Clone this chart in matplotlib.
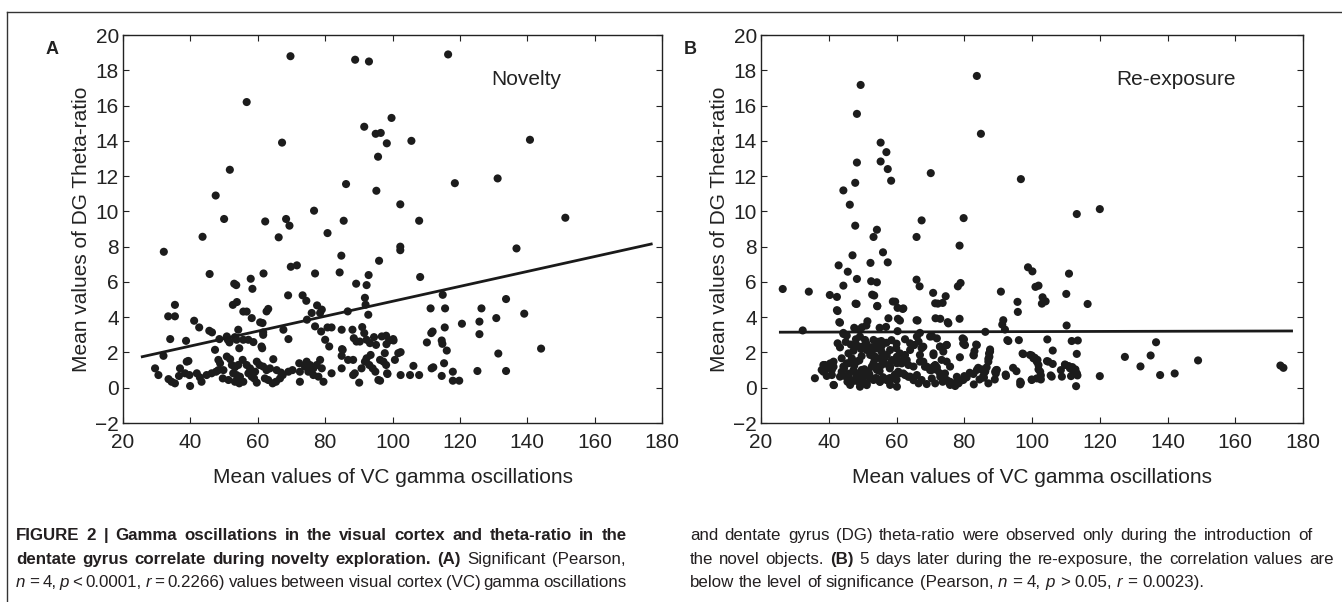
import matplotlib
matplotlib.use("Agg")
import matplotlib.pyplot as plt
from matplotlib.lines import Line2D
from matplotlib.font_manager import FontProperties

plt.rcParams['font.family'] = ['Liberation Sans', 'DejaVu Sans']

# panel A - novelty (x: VC gamma, y: DG theta-ratio)
nov_x = [69.7, 88.9, 93, 116.5, 56.7, 67.2, 99.7, 91.6, 95, 96.5, 98.3, 105.6, 140.8, 95.7,
         51.7, 86.2, 95.2, 118.5, 131.2, 47.5, 102.3, 76.7, 50, 62.2, 68.4, 69.4, 85.5, 107.9,
         151.3, 80.7, 43.6, 66.2, 32.1, 84.8, 102.3, 102.3, 136.8, 69.8, 71.6, 96, 45.7, 57.9,
         61.7, 77, 84.3, 92.9, 108.2, 53, 53.6, 58.4, 89.2, 92.3, 69, 73.3, 74.4, 91.8, 114.9,
         133.7, 52.6, 53.8, 35.4, 77.6, 92,
         33.4, 35.4, 63.1, 62.6, 34, 38.7, 41.1, 42.6, 45.6, 46.4, 48.6, 50.8, 51.1, 51.6, 53.2,
         53.7, 54.2, 55.7, 56.7, 54.5, 55.7, 58.2, 57.2, 58.7, 61.6, 61.6, 61.3, 61.1, 60.7, 61.4,
         67.6, 69.1, 74.6, 76, 77, 78.5, 79, 78.8, 80, 81.2, 80.7, 81.9, 84.9, 86.7, 85, 88.1,
         88.5, 89.3, 90.3, 91, 91.6, 92.3, 93.3, 92.8, 94.5, 95.1, 96.8, 98.1, 99, 100.2, 98.2,
         97.7,
         32, 29.5, 30.5, 33.5, 34.4, 35.4, 36.9, 36.6, 38.9, 39.4, 38.4, 39.7, 39.9, 41.9, 42.8,
         43.3, 44.8, 46.3, 47.6, 47.3, 48.3, 48.8, 48.3, 49.8, 49.6, 51.3, 50.8, 51.8, 52.3, 53.2,
         54.2, 52.7, 53.7, 54.7, 53.2, 54.5, 55.7, 55.5, 56.7, 57.7, 57.2, 58.2, 59.2, 59.7, 60.5,
         59.7, 58.9, 61.6, 62.6, 63.6, 62.1, 63.1, 64.6, 64.4, 65.4, 66.6, 67.4, 65.6, 66.9, 69.1,
         70.3, 72.3, 72.5, 72.5, 74, 74.5, 75.5, 76.5, 77.5, 75, 76.5, 78, 78.5, 79, 79.5, 81.9,
         85.2, 84.9, 84.9, 86.8, 88.3, 88.3, 88.8, 90.1, 90.8, 91.8, 92.3, 93.5, 93.1, 94.1, 94.9,
         95.8, 96.3, 97.3, 98.1, 98.4, 100.7, 101.7,
         111.3, 115.6, 126.4, 139.1, 130.8, 120.6, 125.8, 125.8, 111.9, 111.5, 115.5, 110.2,
         114.6, 114.8, 116.1, 144.1, 131.4, 100.3, 102.4, 106.2, 111.6, 112.1, 115.3, 125.2,
         133.7, 98.5, 102.4, 105.2, 107.9, 114.6, 117.9, 117.9, 119.8, 96.3]
nov_y = [18.8, 18.6, 18.5, 18.9, 16.2, 13.9, 15.3, 14.8, 14.4, 14.45, 13.86, 14.0, 14.06, 13.1,
         12.36, 11.55, 11.17, 11.6, 11.87, 10.9, 10.4, 10.04, 9.57, 9.43, 9.57, 9.19, 9.47, 9.47,
         9.64, 8.77, 8.56, 8.53, 7.71, 7.49, 8.0, 7.8, 7.9, 6.86, 6.94, 7.2, 6.45, 6.18,
         6.48, 6.48, 6.54, 6.39, 6.28, 5.9, 5.82, 5.61, 5.9, 5.82, 5.24, 5.24, 4.93, 5.1, 5.27,
         5.03, 4.7, 4.86, 4.7, 4.67, 4.71,
         4.05, 4.05, 4.47, 4.33, 2.76, 2.66, 3.8, 3.42, 3.23, 3.14, 2.76, 2.91, 2.72, 2.57, 2.87,
         2.72, 3.29, 4.32, 4.32, 2.24, 2.72, 3.95, 2.72, 2.59, 3.0, 3.14, 2.24, 2.34, 3.71, 3.67,
         3.29, 2.76, 3.86, 4.24, 3.48, 4.24, 4.43, 3.19, 2.72, 2.34, 3.42, 3.42, 3.29, 4.33, 2.19, 3.29,
         2.81, 2.62, 2.62, 3.44, 3.1, 2.72, 2.53, 4.14, 2.87, 2.43, 2.91, 2.95, 2.68, 2.76, 2.47,
         1.96,
         1.81, 1.1, 0.72, 0.49, 0.34, 0.25, 1.1, 0.67, 1.48, 1.52, 0.82, 0.72, 0.1, 0.82, 0.59,
         0.34, 0.72, 0.82, 0.91, 2.15, 1.58, 1.39, 1.0, 1.0, 0.53, 0.44, 1.77, 1.62, 1.29, 1.16,
         1.29, 0.82, 0.72, 0.63, 0.34, 0.25, 0.34, 1.58, 1.29, 1.1, 0.82, 0.63, 0.91, 1.48, 1.29,
         0.29, 0.53, 1.2, 1.0, 1.1, 0.53, 0.44, 1.62, 0.25, 0.34, 0.53, 0.72, 1.0, 0.86, 0.91,
         1.0, 1.39, 0.34, 0.91, 1.2, 1.48, 1.29, 1.1, 1.29, 0.91, 0.72, 0.63, 1.58, 1.1, 0.34, 0.82,
         2.15, 1.81, 1.1, 1.58, 1.58, 0.72, 0.82, 0.29, 1.1, 1.48, 1.67, 1.86, 1.29, 1.1, 0.91,
         0.44, 1.58, 1.48, 1.29, 0.82, 1.58, 1.96,
         4.5, 4.5, 4.5, 4.2, 3.95, 3.63, 3.75, 3.04, 3.19, 3.1, 3.42, 2.57,
         2.68, 2.49, 2.11, 2.22, 1.94, 2.68, 2.02, 1.24, 1.1, 1.16, 1.39, 0.95,
         0.95, 0.78, 0.72, 0.72, 0.72, 0.67, 0.91, 0.4, 0.4, 0.4]

# panel B - re-exposure
rex_x = [83.7, 49.4, 48.3, 84.9, 55.3, 57, 55.3, 48.3, 57.4, 70.1, 58.4, 96.7, 47.8, 44.3,
         46.2, 120, 113.2, 67.4, 79.8, 47.8, 54.2, 53.2, 65.9, 78.6, 56, 47, 57.4, 52.3, 42.9,
         45.6, 98.8, 100.1, 110.9, 48.3, 65.9, 52.5, 54.2, 78.9, 78.1, 66.8, 44.3, 101, 101.9,
         26.4, 34.1, 40.3, 42.4, 52.8, 53.4, 70.8, 90.8, 110.1, 74.5, 103.1, 104, 95.7, 47.9,
         116.4, 58.9, 60.3, 61.8, 72.2, 73.6, 54.3, 102.9, 42.4, 95.8, 60.4, 65.9, 71.5, 72.9,
         75.1, 78.6, 91.5, 91.2, 110.2, 43.1, 32.3, 44.3, 45.3, 47.5, 48.8, 49.8, 51.1, 51.4,
         55, 56.9, 60.3, 66.9, 70.5, 86.2, 92, 79.9, 79.8, 83.5, 83, 82.8, 92.7, 96.1, 104.5,
         113.5, 136.6, 87.6, 87.3, 87.1, 106.1, 97.2, 99.9, 100.8, 101.6, 104.4, 113.2, 127.4,
         135, 149, 132, 173.3, 174.2, 137.8, 142.1, 120, 113, 109.7, 110.8, 111.9, 112.8, 108.5,
         111.5, 113.4, 105.5, 102.6, 102.6, 101.9, 99.9, 96.7, 96.5, 94.4, 95.4, 92.2, 89.4,
         89.3, 89, 87.1, 86.2, 85.2, 84.1, 85.8, 84.5, 82.8, 81.6, 80, 78.7, 77.4, 75.5, 73.6,
         35.9, 48.2, 42.6, 43.3, 44.3, 61, 66.2, 59.6, 62, 54.3, 42.6, 43.3, 45.8, 47.3, 48.2,
         49.7, 51.2, 53.2, 54.6, 55.6, 52.2, 53.7, 55.1, 57.1, 58.1, 59.9, 61, 62.5, 64, 65.2,
         38.9, 37.9, 41.4, 40.9, 39.4, 38.4, 41.4, 44.3, 45.8, 47.3, 43.3, 45.8, 48.2, 46.3,
         49.2, 51.2, 49.7, 51.2, 52.7, 54.2, 55.6, 53.2, 55.1, 57.1, 59.1, 58.1, 60.1, 62, 63.5,
         65, 61, 62.5, 64, 60.1, 58.1, 66.9, 67.9, 68.9, 70.4, 71.9, 66, 67.4, 68.9, 67.4, 69.9,
         71.9, 66, 57.6, 50.7, 49.2,
         71.4, 75.3, 79.5, 79.7, 80.2, 74.8, 72.8, 83.7, 82.7, 93, 111.7, 70.9, 73.8, 73.3,
         74.8, 75.8, 78.7, 87.6, 87.4, 87.1, 86.6, 86.1, 85.6, 82.7, 83.7, 80.7, 79.7, 78.3,
         77.3, 75.8, 74.8, 73.8, 72.8, 71.9, 70.9, 70.4, 71.4, 89.1, 89.6, 92.3, 96.5, 97.4,
         99.4, 100.4, 101.4, 101.9, 102.4, 101.4, 104.8, 106.1, 105.8, 108.8, 109.8, 111.2,
         112.2, 113.2, 99.9,
         38.4, 39.4, 40.4, 41.4, 40.9, 41.5, 43.8, 43.8, 44.8, 45.5, 46.8, 49.2, 51.2, 45.3,
         46.8, 48.2, 49.7, 47.3, 48.7, 50.2, 51.7, 51.2, 52.7, 54.1, 55.6, 53.2, 54.6, 56.1,
         57.6, 53.7, 55.1, 57.1, 59.1, 58.6, 60.1, 61.5, 63, 60.5, 62, 63.5, 65, 66.5, 64, 65,
         66.5, 67.9, 66.9, 68.4, 69.9, 71.4, 72.9, 74.3, 75.8, 77.8, 70.9, 72.9, 74.8,
         44.5, 46, 47.5, 49, 50.5, 52, 53.5, 55, 56.5, 58, 59.5, 61,
         45, 46.5, 48, 49.5, 51, 52.5, 54, 55.5, 57, 58.5, 60, 62.5,
         46, 48, 50, 52, 54, 56, 58, 60]
rex_y = [17.68, 17.17, 15.53, 14.4, 13.9, 13.36, 12.83, 12.77, 12.4, 12.17, 11.74, 11.83, 11.62,
         11.19, 10.38, 10.13, 9.85, 9.49, 9.62, 9.19, 8.96, 8.55, 8.55, 8.06, 7.68, 7.51, 7.11,
         7.08, 6.94, 6.58, 6.83, 6.6, 6.47, 6.17, 6.13, 6.04, 5.98, 5.94, 5.75, 5.75, 5.79,
         5.72, 5.79, 5.6, 5.45, 5.26, 5.15, 5.28, 5.23, 5.38, 5.45, 5.32, 5.19, 5.13, 4.9, 4.87,
         4.77, 4.75, 4.89, 4.53, 4.47, 4.77, 4.81, 4.62, 4.77, 4.4, 4.3, 3.91, 3.83, 3.94, 3.91,
         3.72, 3.91, 3.83, 3.58, 3.53, 3.72, 3.25, 3.11, 2.96, 3.4, 3.3, 3.43, 3.53, 3.77,
         3.4, 3.45, 3.21, 3.11, 2.92, 3.17, 3.3, 2.74, 2.49, 2.45, 2.08, 1.83, 2.7, 2.7, 2.74,
         2.68, 2.58, 2.17, 1.94, 1.64, 2.11, 1.94, 1.83, 1.7, 1.58, 1.51, 1.92, 1.75,
         1.83, 1.55, 1.21, 1.26, 1.13, 0.72, 0.81, 0.66, 0.09, 1.32, 1.23, 1.17, 1.04, 1.0,
         0.66, 0.7, 0.7, 0.47, 0.7, 1.04, 0.47, 0.28, 0.19, 1.13, 0.94, 0.75, 1.0,
         0.81, 0.47, 0.25, 0.94, 1.04, 1.13, 0.57, 0.47, 0.19, 0.85, 0.66, 0.38, 0.28, 0.28, 0.34,
         0.54, 4.75, 4.35, 3.69, 3.05, 3.81, 3.81, 4.88, 4.5, 4.64, 2.52, 2.29, 1.95, 2.1, 2.42,
         2.33, 2.18, 2.71, 2.61, 2.37, 1.86, 1.76, 1.67, 1.86, 2.14, 2.24, 1.95, 1.86, 2.52, 2.42,
         1.29, 1.01, 1.48, 1.01, 0.67, 0.91, 0.16, 1.2, 1.39, 1.48, 0.63, 0.53, 0.67, 0.16,
         0.06, 0.25, 1.01, 0.82, 1.2, 1.01, 1.29, 0.44, 0.34, 0.48, 0.59, 1.2, 1.39, 1.58, 1.29,
         1.2, 0.82, 0.72, 0.63, 0.06, 0.16, 1.86, 1.48, 1.2, 1.01, 1.16, 0.72, 0.44, 0.21, 2.24, 2.9,
         2.8, 2.9, 3.94, 2.71, 2.9,
         4.79, 3.65, 2.8, 2.52, 2.42, 2.43, 2.33, 2.42, 1.86, 2.65, 2.65, 1.95, 2.05, 1.58,
         1.48, 1.2, 1.73, 2.05, 1.76, 1.48, 1.16, 0.91, 0.67, 0.78, 1.01, 0.59, 0.44, 0.25,
         0.1, 0.16, 0.44, 0.59, 0.82, 1.01, 1.2, 0.53, 0.25, 0.91, 1.01, 0.67, 0.35, 1.91,
         1.86, 1.67, 1.48, 1.29, 0.91, 0.53, 1.48, 1.35, 0.63, 0.63, 1.29, 1.1,
         0.91, 0.82, 0.44,
         1.29, 1.1, 1.38, 1.19, 0.72, 0.15, 1.67, 0.91, 0.66, 0.34, 0.34, 0.25, 0.15, 1.38,
         1.67, 1.48, 1.8, 1.0, 0.81, 0.62, 0.91, 2.14, 1.95, 2.23, 2.04, 1.38, 1.19, 1.48,
         1.29, 0.53, 0.34, 0.43, 0.53, 1.57, 1.76, 1.38, 1.57, 0.91, 0.81, 0.62, 0.43, 0.25, 2.14, 2.42,
         2.61, 2.33, 1.48, 1.19, 1.0, 1.29, 0.62, 0.81, 0.34, 0.62, 1.85, 2.33, 2.42,
         1.1, 0.8, 1.25, 1.55, 1.05, 0.75, 1.6, 0.95, 1.7, 1.1, 0.75, 1.45,
         2.6, 2.45, 2.75, 2.2, 2.55, 2.3, 2.45, 2.65, 2.55, 2.7, 2.5, 2.75,
         0.55, 0.4, 0.5, 0.6, 0.55, 0.6, 0.55, 0.45]

# fitted regression lines (end points)
fit_a_x = [25.7, 176.8]
fit_a_y = [1.76, 8.15]
fit_b_x = [25.7, 176.6]
fit_b_y = [3.15, 3.22]

x_ticks = [20, 40, 60, 80, 100, 120, 140, 160, 180]
y_ticks = [-2, 0, 2, 4, 6, 8, 10, 12, 14, 16, 18, 20]

fig = plt.figure(figsize=(13.42, 6.02), dpi=100)
ax_a = fig.add_axes([0.0917, 0.2973, 0.4016, 0.6445])
ax_b = fig.add_axes([0.5671, 0.2973, 0.4039, 0.6445])

dot = '#1c1c1c'
for ax, xs, ys, fx, fy, name, nx, letter in [
        (ax_a, nov_x, nov_y, fit_a_x, fit_a_y, 'Novelty', 0.748, 'A'),
        (ax_b, rex_x, rex_y, fit_b_x, fit_b_y, 'Re-exposure', 0.766, 'B')]:
    ax.scatter(xs, ys, s=34, color=dot, edgecolors='none', zorder=3)
    ax.plot(fx, fy, color='#1a1a1a', lw=2.0, zorder=4)
    ax.set_xlim(20, 180)
    ax.set_ylim(-2, 20)
    ax.set_xticks(x_ticks)
    ax.set_yticks(y_ticks)
    ax.tick_params(direction='in', top=True, right=True, length=4, width=0.8,
                   labelsize=15, colors='#222222')
    ax.tick_params(axis='x', pad=7)
    ax.tick_params(axis='y', pad=3)
    for sp in ax.spines.values():
        sp.set_linewidth(1.0)
        sp.set_color('#222222')
    ax.set_xlabel('Mean values of VC gamma oscillations', fontsize=15, labelpad=12, color='#222222')
    ax.set_ylabel('Mean values of DG Theta-ratio', fontsize=15, labelpad=3, color='#222222')
    ax.text(nx, 0.885, name, transform=ax.transAxes, fontsize=15, ha='center', va='center',
            color='#222222')
    ax.text(-0.143, 0.985, letter, transform=ax.transAxes, fontsize=13, fontweight='bold',
            ha='left', va='top', color='#222222')

# frame around the figure
fig.add_artist(Line2D([0.005, 1.0], [0.98, 0.98], transform=fig.transFigure, color='#333333', lw=1.0))
fig.add_artist(Line2D([0.005, 0.005], [0.0, 0.98], transform=fig.transFigure, color='#333333', lw=1.0))

# caption: justified lines made of bold / italic / normal runs
cap_family = ['Liberation Sans Narrow', 'Liberation Sans', 'DejaVu Sans']
cap_size = 12.2
renderer = fig.canvas.get_renderer()


def word_width(s, weight, style):
    fp = FontProperties(family=cap_family, size=cap_size, weight=weight, style=style)
    w, _, _ = renderer.get_text_width_height_descent(s, fp, ismath=False)
    return w / fig.bbox.width


def caption_line(x0, x1, y, runs):
    words = []
    for s, kind in runs:
        weight = 'bold' if kind == 'b' else 'normal'
        style = 'italic' if kind == 'i' else 'normal'
        for w in s.split():
            words.append((w, weight, style, word_width(w, weight, style)))
    total = sum(w[3] for w in words)
    space = word_width('a a', 'normal', 'normal') - 2 * word_width('a', 'normal', 'normal')
    if x1 is not None and len(words) > 1:
        space = (x1 - x0 - total) / (len(words) - 1)
    x = x0
    for w, weight, style, width in words:
        fig.text(x, y, w, family=cap_family, size=cap_size, weight=weight, style=style,
                 ha='left', va='baseline', color='#231f20')
        x += width + space


left_lines = [
    [('FIGURE 2 | Gamma oscillations in the visual cortex and theta-ratio in the', 'b')],
    [('dentate gyrus correlate during novelty exploration. (A)', 'b'), (' Significant (Pearson,', 'n')],
    [('n', 'i'), (' = 4, ', 'n'), ('p', 'i'), (' < 0.0001, ', 'n'), ('r', 'i'),
     (' = 0.2266) values between visual cortex (VC) gamma oscillations', 'n')],
]
right_lines = [
    [('and dentate gyrus (DG) theta-ratio were observed only during the introduction of', 'n')],
    [('the novel objects. ', 'n'), ('(B)', 'b'), (' 5 days later during the re-exposure, the correlation values are', 'n')],
    [('below the level of significance (Pearson, ', 'n'), ('n', 'i'), (' = 4, ', 'n'), ('p', 'i'),
     (' > 0.05, ', 'n'), ('r', 'i'), (' = 0.0023).', 'n')],
]
line_y = [0.103, 0.063, 0.025]
left_ends = [0.467, 0.466, 0.467]
right_ends = [0.978, 0.994, None]
for yy, runs, x1 in zip(line_y, left_lines, left_ends):
    caption_line(0.012, x1, yy, runs)
for yy, runs, x1 in zip(line_y, right_lines, right_ends):
    caption_line(0.514, x1, yy, runs)

fig.savefig('out.png', dpi=100)
